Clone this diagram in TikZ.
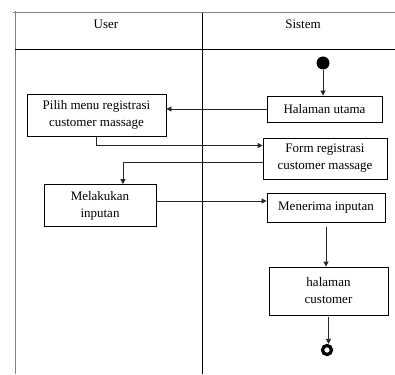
\documentclass[tikz,border=0pt]{standalone}
\usepackage{fontspec}
\setmainfont{Liberation Serif}
\usetikzlibrary{arrows.meta, positioning}

\begin{document}
\begin{tikzpicture}[
    x=1pt, y=-1pt,
    >={Triangle[length=5pt,width=5pt]},
    activity/.style={
        rectangle,
        draw,
        line width=0.8pt,
        text centered,
        align=center,
        inner sep=2pt,
        font=\fontsize{13}{17}\selectfont
    },
    lane/.style={font=\fontsize{13}{15}\selectfont},
    flow/.style={->, line width=0.8pt, draw=black!85}
]
\useasboundingbox (0,0) rectangle (395,374);

% Swimlanes
\draw[gray, line width=1pt] (15,11) -- (15,374);
\draw[gray, line width=1pt] (13,13) -- (395,13);
\draw[line width=1pt] (15,50) -- (395,50);
\draw[line width=1pt] (202,13) -- (202,374);
\node[lane] (user)   at (106,24) {User};
\node[lane] (sistem) at (303,24) {Sistem};

% Nodes
\node (start) [circle, fill=black, minimum size=13pt, inner sep=0pt] at (323,63) {};
\node (home)  [activity, minimum width=115pt, minimum height=26pt] at (324.5,109) {Halaman utama};
\node (pilih) [activity, minimum width=139pt, minimum height=42pt] at (96.5,115)
    {Pilih menu registrasi\\customer massage};
\node (form)  [activity, minimum width=124pt, minimum height=41pt] at (325,158.5)
    {Form registrasi\\customer massage};
\node (input) [activity, minimum width=112pt, minimum height=42pt] at (100,205.5)
    {Melakukan\\inputan};
\node (terima)[activity, minimum width=118pt, minimum height=29pt] at (326,207.5) {Menerima inputan};
\node (cust)  [activity, minimum width=119pt, minimum height=48pt] at (328.5,291)
    {halaman\\customer};
\node (end)   [circle, draw, line width=3.2pt, fill=white, minimum size=9pt, inner sep=0pt] at (327,350) {};

% Edges
\draw[flow] (start.south) -- (start.south |- home.north);
\draw[flow] (home.west) -- (home.west -| pilih.east);
\draw[flow] (pilih.south) |- ([yshift=13pt]form.west);
\draw[flow] ([yshift=-4pt]form.west) -| ([xshift=23pt]input.north);
\draw[flow] ([yshift=4.5pt]input.east) -- ([yshift=4.5pt]input.east -| terima.west);
\draw[flow, shorten <=5pt] (terima.south) -- (terima.south |- cust.north);
\draw[flow, shorten <=2pt] (cust.south) -- (cust.south |- end.north);

\end{tikzpicture}
\end{document}
